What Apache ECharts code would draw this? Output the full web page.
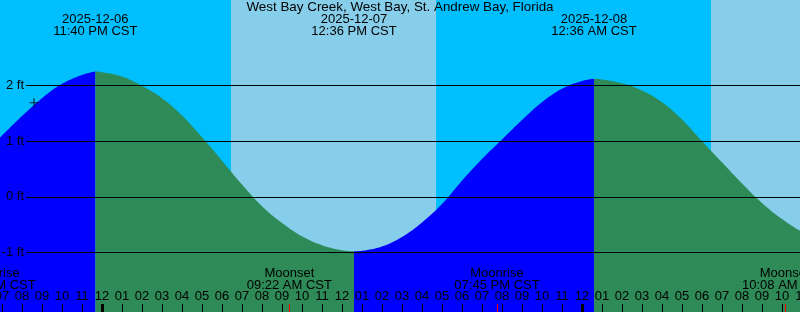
<!DOCTYPE html>
<html><head><meta charset="utf-8">
<script src="https://cdn.jsdelivr.net/npm/echarts@6/dist/echarts.min.js"></script>
<style>html,body{margin:0;padding:0;background:#fff}#c{width:800px;height:312px}</style>
</head><body><div id="c"></div>
<script>
const titleText = 'West Bay Creek, West Bay, St. Andrew Bay, Florida';
// hours relative to 2025-12-07 00:00 CST
const tideHours = [-6,-5,-4,-3,-2,-1,0,1,2,3,4,5,6,7,8,9,10,11,12,13,14,15,16,17,18,19,20,21,22,23,24,25,26,27,28,29,30,31,32,33,34,35,36];
const tideFeet = [0.74,1.10,1.45,1.77,2.03,2.19,2.24,2.16,1.99,1.77,1.46,1.07,0.65,0.22,-0.17,-0.47,-0.71,-0.87,-0.96,-0.97,-0.89,-0.72,-0.46,-0.13,0.29,0.68,1.03,1.38,1.70,1.94,2.08,2.11,2.04,1.91,1.70,1.39,1.00,0.62,0.24,-0.11,-0.40,-0.63,-0.80];
const extremeHours = [-20/60, 12 + 36/60, 24 + 36/60];
const extremeFeet = [2.25, -0.98, 2.12];
const extremeType = ['high', 'low', 'high'];
const extremeLabels = ['2025-12-06\n11:40 PM CST', '2025-12-07\n12:36 PM CST', '2025-12-08\n12:36 AM CST'];
const sunHours = [6.45, 16.7, 30.45]; // sunrise, sunset, sunrise
const moonHours = [-5.45, 9 + 22/60, 19 + 45/60, 34 + 8/60];
const moonLabels = ['Moonrise\n06:33 PM CST', 'Moonset\n09:22 AM CST', 'Moonrise\n07:45 PM CST', 'Moonset\n10:08 AM CST'];
const midnightHours = [0, 24];
const markerPoint = [[-3.4, 1.69]];
const yTickMin = -1, yTickMax = 2;
const xMin = -6, xMax = 36;

const FONT = '"Liberation Sans", Arial, sans-serif';
const NIGHT = '#00BFFF', DAY = '#87CEEB', RISE = '#0000FF', FALL = '#2E8B57';

// layout of the grid-line grid
const g2Top = 85.5, g2Bottom = 59.5, H = 312;
const pxPerFt = (H - g2Top - g2Bottom) / (yTickMax - yTickMin);
const yMax = yTickMax + g2Top / pxPerFt;
const yMin = yTickMin - g2Bottom / pxPerFt;

// merge samples and extremes
const pts = tideHours.map((h, i) => [h, tideFeet[i], -1])
  .concat(extremeHours.map((h, i) => [h, extremeFeet[i], i]))
  .sort((a, b) => a[0] - b[0]);
function segDir(t) {
  for (let i = 0; i < extremeHours.length; i++) {
    if (t < extremeHours[i]) return extremeType[i] === 'high' ? 'rise' : 'fall';
  }
  return extremeType[extremeType.length - 1] === 'high' ? 'fall' : 'rise';
}
const rise = [], fall = [];
pts.forEach(p => {
  if (p[2] >= 0) { rise.push([p[0], p[1]]); fall.push([p[0], p[1]]); }
  else {
    const d = segDir(p[0]);
    rise.push(d === 'rise' ? [p[0], p[1]] : [p[0], '-']);
    fall.push(d === 'fall' ? [p[0], p[1]] : [p[0], '-']);
  }
});

// day / night bands
const bounds = [xMin].concat(sunHours, [xMax]);
const bands = [];
for (let i = 0; i < bounds.length - 1; i++) {
  bands.push([{ xAxis: bounds[i], itemStyle: { color: i % 2 === 0 ? NIGHT : DAY } }, { xAxis: bounds[i + 1] }]);
}

function hourLabel(v) {
  const h = ((Math.round(v) % 24) + 24) % 24;
  const h12 = h % 12 === 0 ? 12 : h % 12;
  return (h12 < 10 ? '0' : '') + h12;
}

const chart = echarts.init(document.getElementById('c'), null, { renderer: 'canvas' });
chart.setOption({
  animation: false,
  backgroundColor: NIGHT,
  title: { text: titleText, left: 'center', top: 1, padding: 0,
    textStyle: { fontSize: 13.4, fontWeight: 'normal', color: '#000', fontFamily: FONT } },
  grid: [
    { left: -18, right: -22, top: 0, bottom: 0, containLabel: false, outerBoundsMode: 'none' },
    { left: 26, right: 0, top: g2Top, bottom: g2Bottom, containLabel: false, outerBoundsMode: 'none' }
  ],
  xAxis: [
    { type: 'value', gridIndex: 0, min: xMin, max: xMax, interval: 1, z: 10,
      axisLine: { show: false, onZero: false }, splitLine: { show: false },
      axisTick: { show: true, inside: true, length: 8, lineStyle: { color: '#000', width: 1 } },
      axisLabel: { inside: true, margin: 9, color: '#000', fontSize: 13, fontFamily: FONT,
        formatter: hourLabel, showMinLabel: true, showMaxLabel: true, hideOverlap: false } },
    { type: 'value', gridIndex: 1, min: 0, max: 1, show: false, axisLine: { onZero: false } }
  ],
  yAxis: [
    { type: 'value', gridIndex: 0, min: yMin, max: yMax, show: false, axisLine: { onZero: false } },
    { type: 'value', gridIndex: 1, min: yTickMin, max: yTickMax, interval: 1, z: 10,
      axisLine: { show: false, onZero: false }, axisTick: { show: false },
      splitLine: { show: true, lineStyle: { color: '#000', width: 1 } },
      axisLabel: { margin: 2, color: '#000', fontSize: 13, fontFamily: FONT, formatter: '{value} ft' } }
  ],
  series: [
    { type: 'line', xAxisIndex: 0, yAxisIndex: 0, z: 0, data: [[xMin, 0]], symbol: 'none',
      lineStyle: { opacity: 0 }, silent: true,
      markArea: { silent: true, data: bands, itemStyle: { opacity: 1 } } },
    { type: 'line', name: 'rising', xAxisIndex: 0, yAxisIndex: 0, z: 2, data: rise,
      smooth: 0.4, connectNulls: false, symbol: 'none',
      lineStyle: { width: 0, color: RISE }, areaStyle: { color: RISE, opacity: 1, origin: 'start' } },
    { type: 'line', name: 'falling', xAxisIndex: 0, yAxisIndex: 0, z: 2, data: fall,
      smooth: 0.4, connectNulls: false, symbol: 'none',
      lineStyle: { width: 0, color: FALL }, areaStyle: { color: FALL, opacity: 1, origin: 'start' } },
    { type: 'scatter', xAxisIndex: 0, yAxisIndex: 0, z: 12, data: markerPoint,
      symbol: 'path://M3.5,0h1v8h-1z M0,3.5h8v1h-8z', symbolSize: 9,
      itemStyle: { color: '#000' } },
    { type: 'custom', xAxisIndex: 0, yAxisIndex: 0, z: 12, clip: false,
      data: extremeHours.map((h, i) => [h, i]),
      renderItem: (params, api) => {
        const x = api.coord([api.value(0), 0])[0];
        return { type: 'text', style: { text: extremeLabels[api.value(1)], x: x, y: 25.5,
          align: 'center', verticalAlign: 'middle', fontSize: 13, fontFamily: FONT,
          lineHeight: 12, fill: '#000' } };
      } },
    { type: 'custom', xAxisIndex: 0, yAxisIndex: 0, z: 12, clip: false,
      data: moonHours.map((h, i) => [h, i]),
      renderItem: (params, api) => {
        const x = api.coord([api.value(0), 0])[0];
        return { type: 'group', children: [
          { type: 'text', style: { text: moonLabels[api.value(1)], x: x, y: 279.5,
            align: 'center', verticalAlign: 'middle', fontSize: 13, fontFamily: FONT,
            lineHeight: 12.5, fill: '#000' } },
          { type: 'rect', shape: { x: Math.round(x), y: 304, width: 1, height: 8 }, style: { fill: '#FF0000' } }
        ] };
      } },
    { type: 'custom', xAxisIndex: 0, yAxisIndex: 0, z: 12, clip: false,
      data: midnightHours.map(h => [h]),
      renderItem: (params, api) => {
        const x = api.coord([api.value(0), 0])[0];
        return { type: 'rect', shape: { x: Math.round(x) - 1, y: 304, width: 3, height: 8 }, style: { fill: '#000' } };
      } }
  ]
});
</script></body></html>
